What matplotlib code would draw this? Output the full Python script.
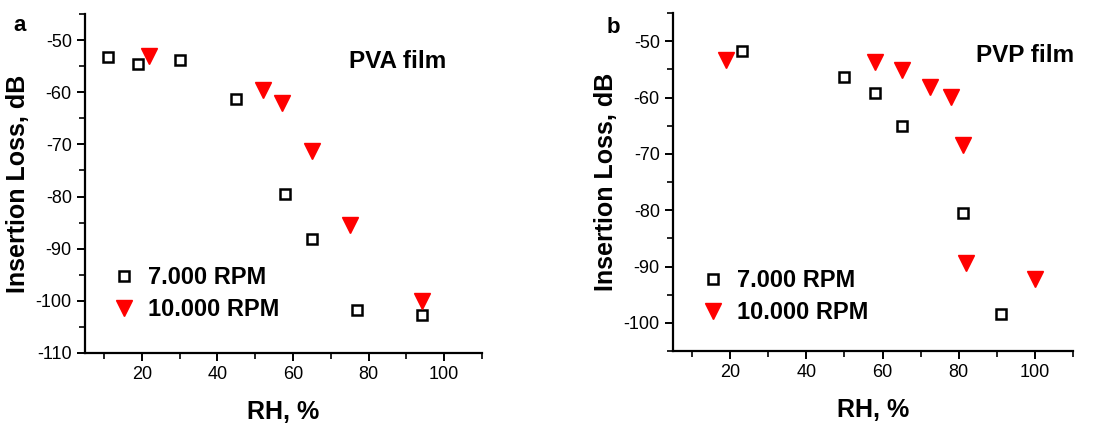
import matplotlib.pyplot as plt
from matplotlib.ticker import MultipleLocator

plt.rcParams['font.family'] = ['Liberation Sans', 'DejaVu Sans']
plt.rcParams['axes.unicode_minus'] = False

# PVA film
pva_rh_7000 = [11, 19, 30, 45, 58, 65, 77, 94]
pva_il_7000 = [-53.3, -54.5, -53.8, -61.3, -79.5, -88.1, -101.8, -102.8]
pva_rh_10000 = [22, 52, 57, 65, 75, 94]
pva_il_10000 = [-53.1, -59.6, -62.1, -71.2, -85.4, -100.0]

# PVP film
pvp_rh_7000 = [23, 50, 58, 65, 81, 91]
pvp_il_7000 = [-51.8, -56.4, -59.2, -65.1, -80.4, -98.5]
pvp_rh_10000 = [19, 58, 65, 72.5, 78, 81, 82, 100]
pvp_il_10000 = [-53.3, -53.7, -55.1, -58.1, -59.9, -68.4, -89.3, -92.2]

fig = plt.figure(figsize=(10.93, 4.24), dpi=100)
ax1 = fig.add_axes([0.0778, 0.1675, 0.3632, 0.7995])
ax2 = fig.add_axes([0.6157, 0.172, 0.366, 0.797])


def draw(ax, x1, y1, x2, y2, ylim, film, film_pos, letter, letter_pos, leg_anchor):
    ax.plot(x1, y1, 's', mfc='none', mec='black', mew=1.8, ms=6.5, label='7.000 RPM')
    ax.plot(x2, y2, 'v', color='red', ms=11, label='10.000 RPM')
    ax.set_xlim(5, 110)
    ax.set_ylim(*ylim)
    ax.xaxis.set_major_locator(MultipleLocator(20))
    ax.xaxis.set_minor_locator(MultipleLocator(10))
    ax.yaxis.set_major_locator(MultipleLocator(10))
    ax.yaxis.set_minor_locator(MultipleLocator(5))
    for s in ['top', 'right']:
        ax.spines[s].set_visible(False)
    for s in ['left', 'bottom']:
        ax.spines[s].set_linewidth(1.6)
    ax.tick_params(which='major', length=6, width=1.4, labelsize=13, direction='out')
    ax.tick_params(which='minor', length=4, width=1.2, direction='out')
    ax.set_xlabel('RH, %', fontsize=18, fontweight='bold', labelpad=12)
    ax.set_ylabel('Insertion Loss, dB', fontsize=18, fontweight='bold', labelpad=4)
    ax.text(film_pos[0], film_pos[1], film, transform=ax.transAxes, fontsize=17.5,
            fontweight='bold')
    ax.text(letter_pos[0], letter_pos[1], letter, transform=ax.transAxes, fontsize=16,
            fontweight='bold')
    ax.legend(loc='center left', bbox_to_anchor=leg_anchor, frameon=False,
              prop={'size': 17, 'weight': 'bold'}, handletextpad=0.4,
              labelspacing=0.4, handlelength=1.2, borderpad=0, borderaxespad=0)


draw(ax1, pva_rh_7000, pva_il_7000, pva_rh_10000, pva_il_10000,
     (-110, -45), 'PVA film', (0.665, 0.84), 'a', (-0.18, 0.95), (0.063, 0.1755))
draw(ax2, pvp_rh_7000, pvp_il_7000, pvp_rh_10000, pvp_il_10000,
     (-105, -45), 'PVP film', (0.757, 0.855), 'b', (-0.165, 0.94), (0.065, 0.161))

fig.savefig('out.png', dpi=100)
